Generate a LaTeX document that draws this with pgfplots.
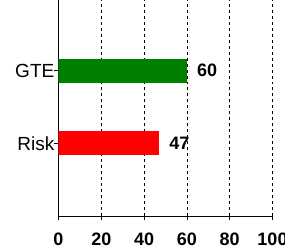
\documentclass[border=0pt]{standalone}
\usepackage{fontspec}
\setmainfont{Liberation Sans}
\usepackage{pgfplots}
\pgfplotsset{compat=1.18}
\begin{document}
\begin{tikzpicture}
\begin{axis}[name=ax,
 scale only axis, width=214bp, height=218bp,
 xmin=0, xmax=100, ymin=0, ymax=3,
 xbar, bar width=24bp,
 axis x line=bottom, axis y line=left, axis line style={-, line width=1bp},
 xtick={0,20,...,100}, ytick={1,2}, yticklabels={Risk,GTE},
 xmajorgrids, major grid style={black, dashed, line width=0.7bp},
 tick align=outside, major tick length=4bp, tick style={black, line width=0.8bp},
 /pgf/number format/assume math mode=true,
 xticklabel style={font=\fontsize{18bp}{18bp}\selectfont\bfseries, inner sep=0pt, anchor=north, yshift=-13bp},
 yticklabel style={font=\fontsize{19bp}{19bp}\selectfont, inner sep=0pt, anchor=east},
 nodes near coords, nodes near coords style={font=\fontsize{18bp}{18bp}\selectfont\bfseries, anchor=west, inner sep=0pt, xshift=10bp},
]
\addplot[fill=green!50!black, draw=none, bar shift=0pt] coordinates {(60,2)};
\addplot[fill=red, draw=none, bar shift=0pt] coordinates {(47,1)};
\end{axis}
\pgfresetboundingbox
\path ([xshift=-58.5bp,yshift=-35bp]ax.south west) rectangle ([xshift=12.5bp,yshift=-2bp]ax.north east);
\end{tikzpicture}
\end{document}
